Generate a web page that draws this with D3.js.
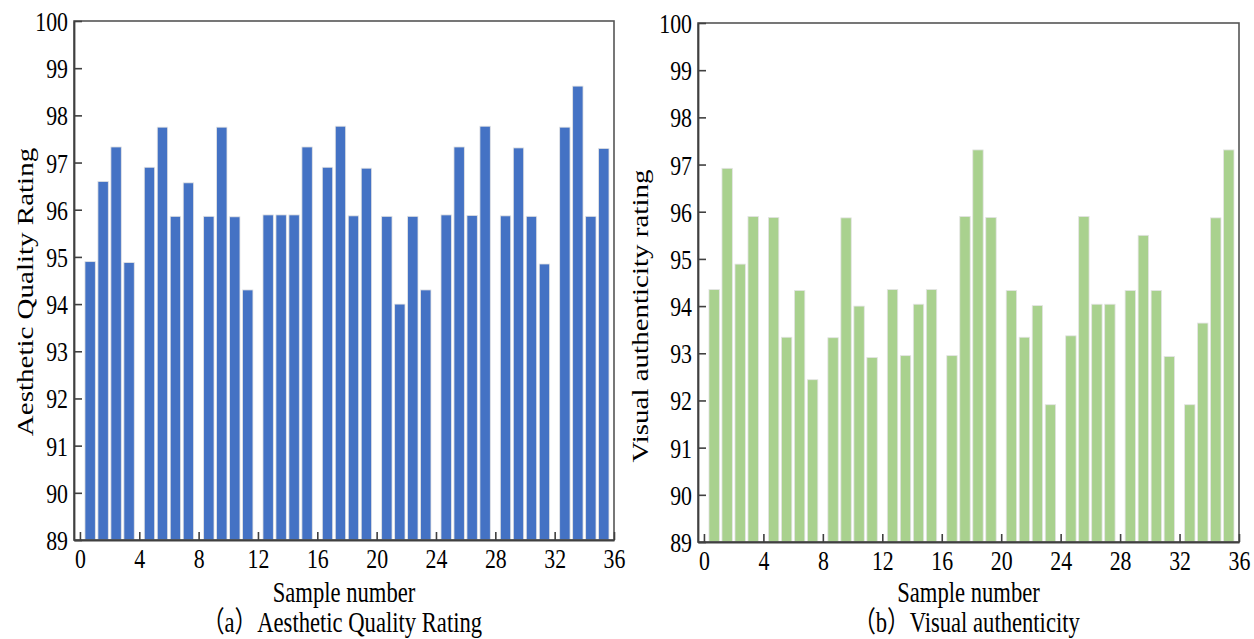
<!DOCTYPE html>
<html>
<head>
<meta charset="utf-8">
<script src="https://cdn.jsdelivr.net/npm/d3@7"></script>
<style>
  html, body { margin: 0; padding: 0; background: #fff; }
  svg { display: block; }
  text { font-family: "Liberation Serif", "Times New Roman", "Noto Sans CJK SC", serif; fill: #000; }
</style>
</head>
<body>
<div id="chart"></div>
<script>
// values, 36 samples each (9 groups of 4)
var aestheticScores = [
    94.9, 96.6, 97.33, 94.88,
    96.9, 97.75, 95.86, 96.57,
    95.86, 97.75, 95.85, 94.3,
    95.89, 95.89, 95.89, 97.33,
    96.9, 97.77, 95.87, 96.88,
    95.86, 94.0, 95.86, 94.3,
    95.89, 97.33, 95.88, 97.77,
    95.87, 97.31, 95.86, 94.85,
    97.75, 98.62, 95.86, 97.3
];
var authenticityScores = [
    94.35, 96.92, 94.89, 95.9,
    95.88, 93.34, 94.33, 92.44,
    93.33, 95.87, 94.0, 92.91,
    94.35, 92.95, 94.04, 94.35,
    92.95, 95.9, 97.31, 95.88,
    94.33, 93.34, 94.01, 91.91,
    93.37, 95.9, 94.04, 94.04,
    94.33, 95.5, 94.33, 92.93,
    91.91, 93.64, 95.87, 97.31
];
var xTicks = [0, 4, 8, 12, 16, 20, 24, 28, 32, 36];
var yTicks = [89, 90, 91, 92, 93, 94, 95, 96, 97, 98, 99, 100];
var xTitle = "Sample number";
var yTitles = ["Aesthetic Quality Rating", "Visual authenticity rating"];
var captions = ["\uFF08a\uFF09Aesthetic Quality Rating", "\uFF08b\uFF09Visual authenticity"];

var W = 1254, H = 639;
var squeeze = 0.78;   // the figure's text is narrow, like a horizontally squeezed image

var svg = d3.select("#chart").append("svg")
    .attr("width", W)
    .attr("height", H);

function drawPanel(values, color, box, yTitle, caption, yTitleY, yTitleX) {
    var xScale = d3.scaleLinear().domain([-0.4, 36]).range([box.left, box.right]);
    var yScale = d3.scaleLinear().domain([89, 100]).range([box.bottom, box.top]);

    var g = svg.append("g");

    // bars, grouped 4 per 4-sample slot
    g.selectAll(".bar")
        .data(values)
        .enter().append("rect")
        .attr("class", "bar")
        .attr("x", function(d, i) {
            var grp = Math.floor(i / 4);
            var sub = d3.scaleBand().domain([0, 1, 2, 3])
                .range([xScale(4 * grp + 0.25), xScale(4 * grp + 3.75)])
                .paddingInner(0.2).paddingOuter(0.1);
            return sub(i % 4);
        })
        .attr("width", function() {
            return d3.scaleBand().domain([0, 1, 2, 3])
                .range([xScale(0.25), xScale(3.75)])
                .paddingInner(0.2).paddingOuter(0.1).bandwidth();
        })
        .attr("y", function(d) { return yScale(d); })
        .attr("height", function(d) { return yScale(89) - yScale(d); })
        .style("fill", color)
        .style("stroke", "#e4e4e4")
        .style("stroke-width", 0.8);

    // frame
    g.append("rect")
        .attr("x", box.left).attr("y", box.top)
        .attr("width", box.right - box.left).attr("height", box.bottom - box.top)
        .style("fill", "none")
        .style("stroke", "#555")
        .style("stroke-width", 1.6);

    // y axis, ticks pointing in
    var yAxisG = g.append("g")
        .attr("transform", "translate(" + box.left + ",0)")
        .call(d3.axisLeft(yScale).tickValues(yTicks).tickSizeInner(-8).tickSizeOuter(0).tickFormat(d3.format("d")));
    yAxisG.selectAll("text")
        .attr("x", -6 / squeeze)
        .attr("dy", "0.34em")
        .attr("transform", "scale(" + squeeze + ",1)")
        .style("font-size", "28px");

    // x axis, ticks pointing in
    var xAxisG = g.append("g")
        .attr("transform", "translate(0," + box.bottom + ")")
        .call(d3.axisBottom(xScale)
            .tickValues(xTicks.map(function(v) { return Math.max(v, -0.4); }))
            .tickSizeInner(-8).tickSizeOuter(0)
            .tickFormat(function(v) { return Math.round(v); }));
    xAxisG.selectAll("text")
        .attr("y", 8)
        .attr("transform", "scale(" + squeeze + ",1)")
        .style("font-size", "28px");

    [yAxisG, xAxisG].forEach(function(ax) {
        ax.select(".domain").style("stroke", "#404040").style("stroke-width", 1.8);
        ax.selectAll(".tick line").style("stroke", "#404040").style("stroke-width", 1.6);
    });

    // titles
    var midX = (box.left + box.right) / 2;
    g.append("text")
        .attr("transform", "translate(" + midX + ",602) scale(" + squeeze + ",1)")
        .attr("text-anchor", "middle")
        .style("font-size", "29px")
        .text(xTitle);

    g.append("text")
        .attr("transform", "translate(" + (midX - 2) + ",632) scale(" + squeeze + ",1)")
        .attr("text-anchor", "middle")
        .style("font-size", "29px")
        .text(caption);

    g.append("text")
        .attr("transform", "translate(" + yTitleX + "," + yTitleY + ") rotate(-90) scale(1," + squeeze + ")")
        .attr("text-anchor", "middle")
        .style("font-size", "29px")
        .text(yTitle);
}

drawPanel(aestheticScores, "#4472C4", {left: 74, right: 614, top: 21, bottom: 540},
    yTitles[0], captions[0], 292, 33);
drawPanel(authenticityScores, "#A9D18E", {left: 698, right: 1239, top: 23, bottom: 542},
    yTitles[1], captions[1], 316, 648);
</script>
</body>
</html>
